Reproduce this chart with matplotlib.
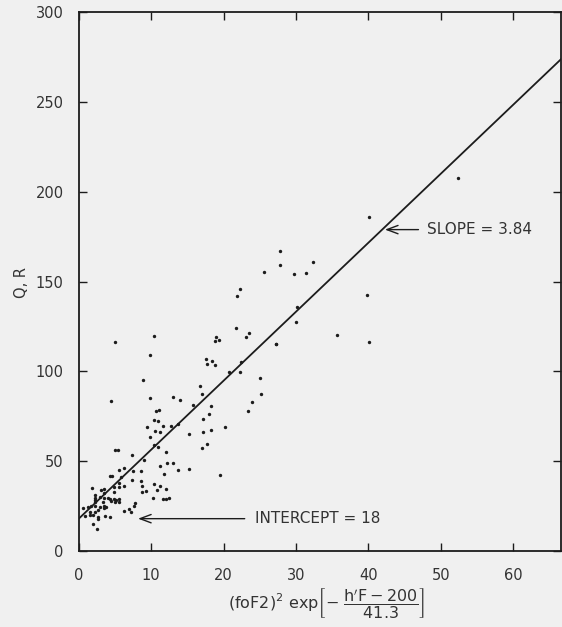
import matplotlib
matplotlib.use("Agg")
import matplotlib.pyplot as plt
import numpy as np

# Observations: index (foF2)^2 exp[-(h'F-200)/41.3] against Q, R
x_obs = [
    5.0, 10.43, 9.88, 8.87, 4.49, 9.88, 12.96, 13.95, 10.61, 11.12,
    10.33, 10.94, 9.36, 11.67, 12.78, 13.74, 10.57, 11.22, 9.83, 15.19,
    10.39, 10.98, 17.51, 17.75, 18.34, 18.78, 18.90, 19.31, 18.83, 21.75,
    23.09, 23.44, 20.75, 22.27, 22.35, 16.74, 16.96, 15.77, 18.20, 18.0,
    17.20, 18.30, 17.13, 17.75, 17.02, 20.14, 19.45, 23.31, 23.94, 25.62,
    22.21, 21.89, 27.18, 25.03, 25.11, 40.12, 27.83, 27.73, 32.39, 29.67,
    31.42, 39.85, 30.18, 29.97, 35.61, 40.03, 27.24, 52.38, 5.04, 5.39,
    7.29, 12.09, 9.0, 12.22, 13.01, 11.26, 13.65, 15.17, 11.77, 8.56,
    8.63, 10.39, 11.22, 10.84, 12.09, 9.23, 8.77, 10.25, 11.67, 12.0,
    12.46, 6.19, 5.59, 7.49, 4.25, 4.59, 5.77, 5.59, 6.19, 7.35,
    4.81, 5.59, 8.73, 1.86, 3.11, 3.43, 3.43, 2.24, 2.28, 2.18,
    4.81, 2.97, 3.48, 3.98, 4.35, 4.49, 4.86, 5.18, 5.50, 5.04,
    5.55, 3.29, 2.28, 1.73, 2.18, 2.87, 3.43, 3.76, 1.22, 0.62,
    7.57, 6.28, 6.98, 7.25, 7.71, 2.24, 2.65, 1.59, 3.43, 2.0,
    2.65, 3.62, 0.86, 4.25, 2.65, 1.6, 1.96, 2.51,
]
y_obs = [
    116.3, 119.6, 109.2, 95.4, 83.3, 85.4, 85.5, 83.9, 77.7, 78.3,
    72.7, 72.5, 69.0, 69.4, 69.8, 70.7, 66.6, 66.2, 63.6, 65.4,
    59.2, 58.0, 106.8, 104.1, 105.9, 103.7, 118.9, 117.6, 116.7, 123.9,
    119.1, 121.2, 99.6, 99.5, 105.3, 92.0, 87.3, 81.1, 80.6, 76.1,
    73.7, 67.6, 66.2, 59.4, 57.5, 69.2, 42.3, 77.9, 82.8, 155.4,
    145.8, 141.7, 115.2, 96.3, 87.2, 186.0, 166.9, 159.0, 160.7, 154.1,
    154.5, 142.6, 135.8, 127.4, 120.5, 116.1, 115.4, 207.6, 56.4, 56.4,
    53.3, 55.3, 50.8, 49.1, 49.1, 47.5, 45.1, 45.6, 42.8, 44.4,
    39.2, 37.1, 36.2, 34.1, 34.7, 33.4, 32.6, 29.7, 28.9, 28.9,
    29.7, 46.2, 45.2, 44.5, 41.6, 41.6, 41.3, 37.8, 36.3, 39.5,
    35.6, 35.4, 36.0, 34.9, 33.9, 34.3, 32.3, 31.2, 29.7, 28.4,
    33.0, 29.9, 29.7, 29.3, 28.8, 27.8, 28.9, 28.2, 28.8, 27.4,
    27.4, 27.3, 27.4, 25.2, 25.2, 24.7, 25.2, 24.3, 24.5, 23.8,
    25.0, 22.3, 23.2, 21.7, 26.7, 21.9, 22.6, 21.7, 23.8, 20.0,
    19.1, 19.5, 19.5, 18.9, 17.6, 20.0, 14.9, 12.4,
]

# Fitted straight line
intercept = 18
slope = 3.84

x_ticks = [0, 10, 20, 30, 40, 50, 60]
y_ticks = [0, 50, 100, 150, 200, 250, 300]

ink = "#1c1c1c"
paper = "#f0f0f0"

plt.rcParams["font.family"] = ["DejaVu Sans"]
plt.rcParams["mathtext.fontset"] = "dejavusans"

fig = plt.figure(figsize=(5.62, 6.27), dpi=100, facecolor=paper)
ax = fig.add_axes([0.1402, 0.1212, 0.858, 0.8596])
ax.set_facecolor(paper)

ax.scatter(x_obs, y_obs, s=6, color=ink, linewidths=0, zorder=3)

xl = np.array([0, 66.6])
ax.plot(xl, intercept + slope * xl, color=ink, lw=1.3, zorder=2)

ax.set_xlim(0, 66.6)
ax.set_ylim(0, 300)
ax.set_xticks(x_ticks)
ax.set_yticks(y_ticks)

for sp in ax.spines.values():
    sp.set_color(ink)
    sp.set_linewidth(1.3)

ax.tick_params(axis="both", direction="in", length=6, width=1.0, color=ink,
               top=True, right=True, labelcolor="#333333", labelsize=10.5)
ax.tick_params(axis="x", pad=12)
ax.tick_params(axis="y", pad=11)

fig.text(22 / 562, 1 - 282 / 627, "Q, R", rotation=90, ha="center", va="center",
         fontsize=10.5, color="#333333")

fig.text(327 / 562, 1 - 604 / 627,
         r"$\mathrm{(foF2)^2\ exp}\left[-\ \dfrac{\mathrm{h'F-200}}{\mathrm{41.3}}\right]$",
         fontsize=11.5, color="#333333", ha="center", va="center")

# Slope annotation
xs = 41.9
ax.annotate("", xy=(xs, intercept + slope * xs), xytext=(47.3, intercept + slope * xs),
            arrowprops=dict(arrowstyle="->,head_length=0.8,head_width=0.3",
                            color=ink, lw=1.0))
ax.text(48.1, intercept + slope * xs, "SLOPE = 3.84", fontsize=11,
        color="#333333", va="center", ha="left")

# Intercept annotation
ax.annotate("", xy=(7.8, intercept), xytext=(23.3, intercept),
            arrowprops=dict(arrowstyle="->,head_length=0.8,head_width=0.3",
                            color=ink, lw=1.0))
ax.text(24.4, intercept, "INTERCEPT = 18", fontsize=11,
        color="#333333", va="center", ha="left")

fig.savefig("out.png", dpi=100, facecolor=paper)
